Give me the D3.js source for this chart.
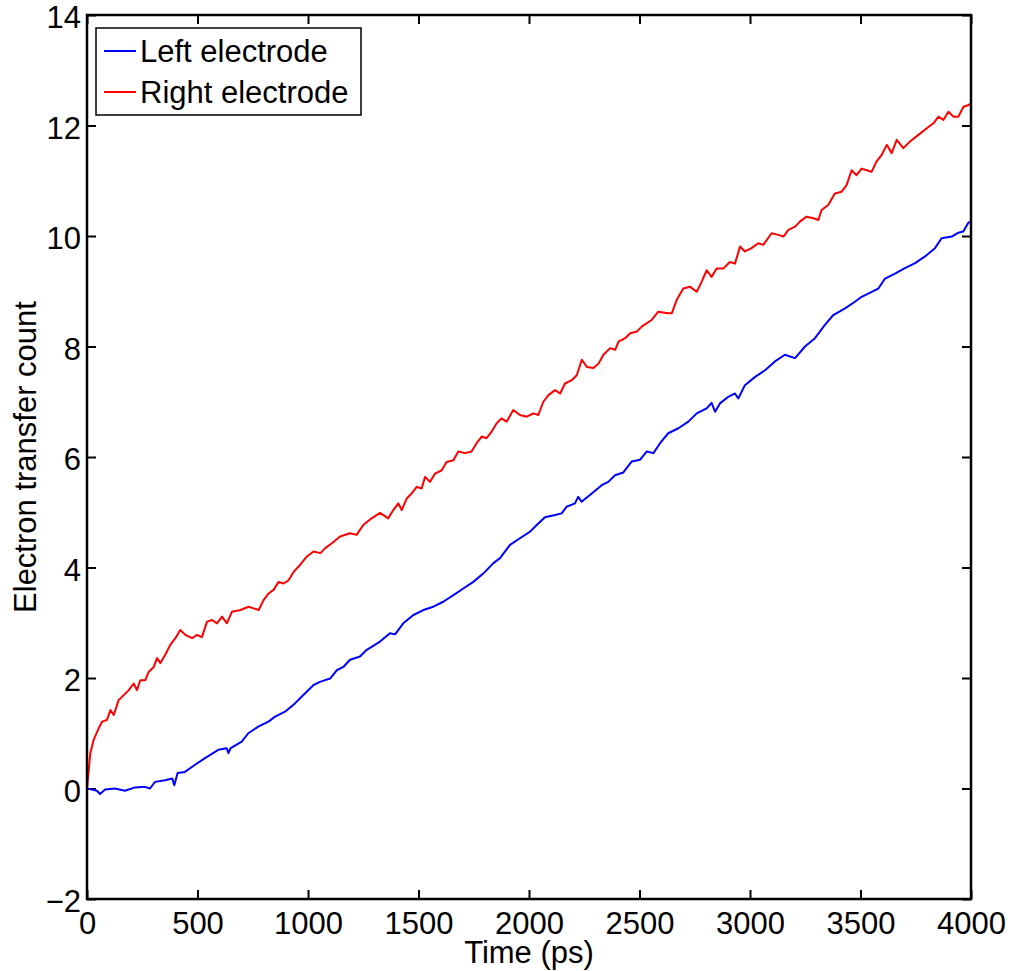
<!DOCTYPE html>
<html>
<head>
<meta charset="utf-8">
<script src="https://cdn.jsdelivr.net/npm/d3@7"></script>
<style>
body { margin: 0; background: #fff; }
svg text { font-family: "Liberation Sans", Arial, Helvetica, sans-serif; fill: #000; }
</style>
</head>
<body>
<svg id="chart"></svg>
<script>
// data
var xTicks = [0, 500, 1000, 1500, 2000, 2500, 3000, 3500, 4000];
var yTicks = [-2, 0, 2, 4, 6, 8, 10, 12, 14];
var seriesNames = ["Left electrode", "Right electrode"];
var seriesColors = ["#0000ff", "#ff0000"];

var leftTime = [0, 23, 45, 59, 82, 127, 172, 217, 262, 285, 308, 353, 386, 395, 410, 443, 489, 534, 594, 632, 640, 650, 700, 730, 775, 821, 851, 896, 941, 986,
  1024, 1054, 1100, 1130, 1160, 1190, 1235, 1266, 1326, 1371, 1394, 1431, 1477, 1522, 1567, 1612, 1658, 1703, 1748, 1793, 1839, 1869, 1914, 1959,
  2005, 2035, 2072, 2118, 2148, 2170, 2208, 2223, 2238, 2284, 2329, 2359, 2389, 2427, 2465, 2502, 2533, 2563, 2593, 2630, 2676, 2721, 2759, 2804,
  2826, 2842, 2864, 2902, 2932, 2947, 2977, 3023, 3068, 3113, 3158, 3204, 3249, 3294, 3339, 3377, 3430, 3475, 3505, 3551, 3581, 3611, 3656, 3701,
  3747, 3792, 3837, 3867, 3913, 3943, 3965, 3988, 4000];
var leftCount = [0, -0.02, -0.04, -0.10, -0.02, 0.0, -0.04, 0.02, 0.03, 0.0, 0.12, 0.15, 0.18, 0.06, 0.28, 0.30, 0.43, 0.55, 0.70, 0.73, 0.64, 0.73, 0.85, 1.0, 1.12, 1.21, 1.30, 1.39, 1.54, 1.72,
  1.87, 1.93, 1.99, 2.14, 2.20, 2.33, 2.39, 2.51, 2.66, 2.81, 2.79, 2.99, 3.14, 3.23, 3.29, 3.38, 3.50, 3.62, 3.74, 3.89, 4.08, 4.17, 4.41, 4.53,
  4.65, 4.77, 4.91, 4.95, 4.98, 5.10, 5.16, 5.28, 5.19, 5.34, 5.49, 5.55, 5.67, 5.72, 5.92, 5.95, 6.10, 6.07, 6.25, 6.43, 6.52, 6.64, 6.79, 6.88,
  6.98, 6.82, 6.97, 7.09, 7.15, 7.06, 7.30, 7.45, 7.57, 7.73, 7.85, 7.79, 8.00, 8.15, 8.39, 8.57, 8.69, 8.81, 8.90, 8.99, 9.05, 9.23, 9.32, 9.42,
  9.51, 9.63, 9.78, 9.96, 9.99, 10.06, 10.08, 10.24, 10.26];

var rightTime = [0, 15, 30, 53, 68, 90, 106, 121, 143, 166, 189, 211, 226, 241, 264, 279, 302, 317, 332, 354, 377, 400, 422, 445, 475, 498, 520,
  543, 566, 588, 611, 633, 656, 694, 731, 754, 777, 799, 822, 845, 867, 890, 912, 935, 965, 995, 1025, 1056, 1078, 1108,
  1145, 1190, 1220, 1250, 1288,
  1326, 1363, 1386, 1409, 1424, 1447, 1469, 1492, 1514, 1530, 1552, 1575, 1605, 1627, 1658, 1680, 1710, 1740, 1763, 1786, 1808, 1831, 1854, 1876,
  1899, 1929, 1959, 1990, 2020, 2042, 2065, 2088, 2118, 2141, 2163, 2193, 2216, 2239, 2262, 2292, 2314, 2337, 2367, 2390, 2405, 2435, 2458, 2488,
  2510, 2555, 2585, 2630,
  2646, 2668, 2698, 2729, 2759, 2781, 2804, 2826, 2849, 2879, 2909, 2932, 2955, 2977, 3007, 3037, 3060, 3098, 3128, 3151, 3174, 3204, 3226, 3256,
  3287, 3309, 3324, 3354, 3384, 3414, 3437, 3460, 3482, 3505, 3528, 3550, 3573, 3596, 3619, 3641, 3664, 3694, 3724, 3762, 3800, 3830, 3853, 3875,
  3898, 3920, 3943, 3966, 3989, 4000];
var rightCount = [0, 0.64, 0.88, 1.09, 1.21, 1.24, 1.42, 1.33, 1.60, 1.69, 1.78, 1.90, 1.78, 1.96, 1.96, 2.11, 2.20, 2.36, 2.27, 2.42, 2.60, 2.72, 2.87, 2.78, 2.72, 2.78, 2.74,
  3.02, 3.05, 2.99, 3.11, 2.99, 3.20, 3.23, 3.29, 3.26, 3.23, 3.41, 3.53, 3.60, 3.74, 3.71, 3.77, 3.92, 4.05, 4.20, 4.29, 4.26, 4.35, 4.44,
  4.56, 4.62, 4.59, 4.77, 4.89,
  4.99, 4.89, 5.04, 5.16, 5.04, 5.25, 5.34, 5.46, 5.43, 5.64, 5.55, 5.70, 5.76, 5.91, 5.94, 6.10, 6.07, 6.10, 6.25, 6.37, 6.34, 6.46, 6.61, 6.70,
  6.64, 6.85, 6.76, 6.73, 6.79, 6.76, 7.00, 7.12, 7.21, 7.15, 7.33, 7.39, 7.48, 7.76, 7.63, 7.61, 7.69, 7.85, 7.97, 7.94, 8.09, 8.15, 8.24, 8.27,
  8.36, 8.48, 8.63, 8.60,
  8.60, 8.84, 9.05, 9.08, 8.99, 9.17, 9.38, 9.26, 9.41, 9.41, 9.53, 9.50, 9.81, 9.72, 9.78, 9.87, 9.84, 10.05, 10.02, 9.99, 10.11, 10.17, 10.26, 10.35,
  10.32, 10.29, 10.47, 10.56, 10.77, 10.80, 10.92, 11.19, 11.10, 11.22, 11.19, 11.16, 11.35, 11.47, 11.65, 11.50, 11.74, 11.59, 11.71, 11.83, 11.95, 12.04, 12.16, 12.10,
  12.25, 12.16, 12.16, 12.34, 12.37, 12.40];

var width = 1014, height = 971;
var margin = {left: 87, top: 15, right: 43, bottom: 72};
var plotW = width - margin.left - margin.right;
var plotH = height - margin.top - margin.bottom;

var svg = d3.select("#chart").attr("width", width).attr("height", height);
var g = svg.append("g").attr("transform", "translate(" + margin.left + "," + margin.top + ")");

var x = d3.scaleLinear().domain([0, 4000]).range([0, plotW]);
var y = d3.scaleLinear().domain([-2, 14]).range([plotH, 0]);

function fmt(d) { return d < 0 ? "\u2212" + Math.abs(d) : String(d); }

// ticks all round, pointing inwards
var tickLen = 9;
g.append("g").attr("transform", "translate(0," + plotH + ")")
  .call(d3.axisBottom(x).tickValues(xTicks).tickSize(-tickLen).tickPadding(13).tickFormat(fmt));
g.append("g")
  .call(d3.axisTop(x).tickValues(xTicks).tickSize(-tickLen).tickFormat(""));
var yAxis = g.append("g")
  .call(d3.axisLeft(y).tickValues(yTicks).tickSize(-tickLen).tickPadding(6).tickFormat(fmt));
yAxis.selectAll(".tick text").attr("y", 3);
g.append("g").attr("transform", "translate(" + plotW + ",0)")
  .call(d3.axisRight(y).tickValues(yTicks).tickSize(-tickLen).tickFormat(""));

g.selectAll(".domain").remove();
g.selectAll(".tick line").attr("stroke", "#000").attr("stroke-width", 2);
g.selectAll(".tick text").style("font-size", "31px");

// lines
var line = d3.line().x(function (d) { return x(d[0]); }).y(function (d) { return y(d[1]); });
var leftData = leftTime.map(function (t, i) { return [t, leftCount[i]]; });
var rightData = rightTime.map(function (t, i) { return [t, rightCount[i]]; });

var plotArea = g.append("g");
plotArea.append("path").datum(leftData).attr("d", line)
  .attr("fill", "none").attr("stroke", seriesColors[0]).attr("stroke-width", 2).attr("stroke-linejoin", "round");
plotArea.append("path").datum(rightData).attr("d", line)
  .attr("fill", "none").attr("stroke", seriesColors[1]).attr("stroke-width", 2).attr("stroke-linejoin", "round");

// box
g.append("rect").attr("x", 0).attr("y", 0).attr("width", plotW).attr("height", plotH)
  .attr("fill", "none").attr("stroke", "#000").attr("stroke-width", 2.5);

// axis labels
svg.append("text").attr("x", margin.left + plotW / 2).attr("y", 963)
  .attr("text-anchor", "middle").style("font-size", "31px").text("Time (ps)");
svg.append("text")
  .attr("transform", "translate(36," + (margin.top + plotH / 2) + ") rotate(-90)")
  .attr("text-anchor", "middle").style("font-size", "31px").text("Electron transfer count");

// legend
var legend = svg.append("g").attr("transform", "translate(96,28)");
legend.append("rect").attr("width", 265).attr("height", 87)
  .attr("fill", "#fff").attr("stroke", "#000").attr("stroke-width", 1.5);
seriesNames.forEach(function (name, i) {
  var ly = 23 + i * 41;
  legend.append("line").attr("x1", 8).attr("x2", 40).attr("y1", ly).attr("y2", ly)
    .attr("stroke", seriesColors[i]).attr("stroke-width", 2);
  legend.append("text").attr("x", 44).attr("y", ly + 11).style("font-size", "31px").text(name);
});
</script>
</body>
</html>
